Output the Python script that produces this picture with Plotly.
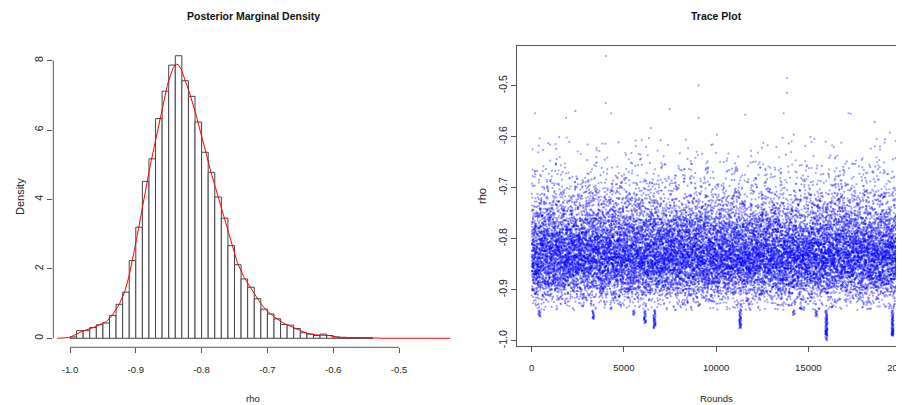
import numpy as np
import plotly.graph_objects as go

# ---------------- data ----------------
BIN_START = -1.00
BIN_WIDTH = 0.01
hist_density = [0.04, 0.22, 0.22, 0.31, 0.39, 0.44, 0.66, 0.98, 1.33, 2.24,
                3.20, 4.52, 5.17, 6.33, 7.12, 7.87, 8.14, 7.42, 6.97, 6.23,
                5.36, 4.78, 4.07, 3.46, 2.67, 2.12, 1.71, 1.47, 1.14, 0.84,
                0.70, 0.56, 0.40, 0.38, 0.28, 0.16, 0.12, 0.08, 0.12, 0.08,
                0.04, 0.03, 0.02, 0.02, 0.02, 0.01]
N_ROUNDS = 20000

# isolated high points of the trace (round, rho)
high_rounds = [4020, 4020, 4310, 180, 1865, 2370, 7480, 9050, 9050, 6460,
               11580, 13840, 13840, 13665, 17180, 17300, 18600, 19420, 14210, 10045]
high_values = [-0.442, -0.534, -0.554, -0.554, -0.563, -0.550, -0.546, -0.4995, -0.563, -0.583,
               -0.557, -0.485, -0.514, -0.554, -0.554, -0.555, -0.571, -0.592, -0.596, -0.596]
# downward excursions of the trace (round, lowest rho)
low_rounds = [15980, 19570, 11310, 6660, 6150, 3350, 416, 15440, 5520, 14210]
low_minima = [-0.995, -0.992, -0.976, -0.976, -0.966, -0.958, -0.953, -0.953, -0.950, -0.950]

x_ticks_left = [-1.0, -0.9, -0.8, -0.7, -0.6, -0.5]
y_ticks_left = [0, 2, 4, 6, 8]
x_ticks_right = [0, 5000, 10000, 15000, 20000]
y_ticks_right = [-1.0, -0.9, -0.8, -0.7, -0.6, -0.5]

# ---------------- trace samples rebuilt from the histogram ----------------
dens_arr = np.array(hist_density)
edges = BIN_START + BIN_WIDTH * np.arange(len(dens_arr))
centers = edges + BIN_WIDTH / 2
counts = np.rint(dens_arr * BIN_WIDTH * N_ROUNDS).astype(int)

bulk_vals, low_vals = [], []
for e, c in zip(edges, counts):
    if c <= 0:
        continue
    v = e + BIN_WIDTH * (np.arange(c) + 0.5) / c
    if e < -0.945:
        low_vals.extend(v)
    elif e < -0.605:
        bulk_vals.extend(v)
bulk_vals = np.array(bulk_vals)
low_vals = np.sort(np.array(low_vals))


def mix(k):
    z = np.asarray(k).astype(np.uint64) + np.uint64(0x9E3779B97F4A7C15)
    z = (z ^ (z >> np.uint64(30))) * np.uint64(0xBF58476D1CE4E5B9)
    z = (z ^ (z >> np.uint64(27))) * np.uint64(0x94D049BB133111EB)
    return z ^ (z >> np.uint64(31))


# fixed (non-random) ordering of the bulk samples over the rounds
M = len(bulk_vals)
order = np.argsort(mix(np.arange(M)))
bulk_rounds = np.empty(M)
bulk_rounds[order] = np.rint(np.arange(M) * (N_ROUNDS - 1) / (M - 1))

# low-tail samples sit in the downward excursions seen in the trace
low_r = []
low_off = (mix(np.arange(len(low_vals)) + 777) % np.uint64(121)).astype(int) - 60
for k, v in enumerate(low_vals):
    elig = [j for j, m in enumerate(low_minima) if m <= v + 1e-9] or [0]
    j = elig[k % len(elig)]
    low_r.append(low_rounds[j] + low_off[k])

tr_rounds = np.concatenate([bulk_rounds, np.array(low_r), np.array(high_rounds)])
tr_vals = np.concatenate([bulk_vals, low_vals, np.array(high_values)])
srt = np.argsort(tr_rounds, kind="stable")
tr_rounds, tr_vals = tr_rounds[srt], tr_vals[srt]

# kernel density (R default bandwidth)
n = len(tr_vals)
sd = tr_vals.std(ddof=1)
iqr = np.subtract(*np.percentile(tr_vals, [75, 25]))
bw = 0.9 * min(sd, iqr / 1.34) * n ** -0.2
grid = np.linspace(tr_vals.min() - 3 * bw, tr_vals.max() + 3 * bw, 512)
kde = np.zeros_like(grid)
for chunk in np.array_split(tr_vals, 20):
    kde += np.exp(-0.5 * ((grid[:, None] - chunk[None, :]) / bw) ** 2).sum(axis=1)
kde /= n * bw * np.sqrt(2 * np.pi)

# ---------------- figure ----------------
OFF = 8                      # default page margin of the html body
W, H = 904 - OFF, 405 - OFF
FONT = "Liberation Sans, Arial, Helvetica, sans-serif"
AX = "#555555"
TXT = "#222222"


def px(x):
    return (x - OFF) / W


def py(y):
    return 1 - (y - OFF) / H


fig = go.Figure()
fig.add_trace(go.Bar(x=centers, y=dens_arr, width=BIN_WIDTH,
                     marker=dict(color="white", line=dict(color="#444444", width=1)),
                     xaxis="x", yaxis="y", showlegend=False))
fig.add_trace(go.Scatter(x=grid, y=kde, mode="lines", line=dict(color="red", width=1),
                         xaxis="x", yaxis="y", showlegend=False))
fig.add_trace(go.Scatter(x=tr_rounds, y=tr_vals, mode="markers",
                         marker=dict(color="blue", size=2.2, opacity=0.38, line=dict(width=0)),
                         xaxis="x2", yaxis="y2", showlegend=False))

xfont = dict(family=FONT, size=9.5, color=TXT)
yfont = dict(family=FONT, size=10.5, color=TXT)
common = dict(showgrid=False, zeroline=False, ticks="outside", ticklen=5, tickwidth=1,
              tickcolor=AX, automargin=False, ticklabeloverflow="allow")

fig.update_layout(
    width=W, height=H, margin=dict(l=0, r=0, t=0, b=0),
    paper_bgcolor="white", plot_bgcolor="white", showlegend=False,
    xaxis=dict(domain=[px(53.3), px(450)], range=[-1.0254, -0.4225], anchor="y",
               tickvals=x_ticks_left, ticktext=["%.1f" % v for v in x_ticks_left],
               showline=False, tickfont=xfont, ticklabelstandoff=8, **common),
    yaxis=dict(domain=[py(347.3), py(46)], range=[-0.259, 8.42], anchor="x",
               tickvals=y_ticks_left, ticktext=[str(v) for v in y_ticks_left],
               tickangle=-90, showline=False, tickfont=yfont, **common),
    xaxis2=dict(domain=[px(516.7), 1.0], range=[-813, 20190], anchor="y2",
                tickvals=x_ticks_right, ticktext=[str(v) for v in x_ticks_right],
                showline=True, mirror=True, linecolor=AX, linewidth=1,
                tickfont=xfont, ticklabelstandoff=8, **common),
    yaxis2=dict(domain=[py(345.7), py(45.7)], range=[-1.0098, -0.4216], anchor="x2",
                tickvals=y_ticks_right, ticktext=["%.1f" % v for v in y_ticks_right],
                tickangle=-90, showline=True, mirror=False, linecolor=AX, linewidth=1,
                tickfont=yfont, **common),
    shapes=[
        dict(type="line", xref="x", yref="y domain", x0=x_ticks_left[0], x1=x_ticks_left[-1],
             y0=0, y1=0, line=dict(color=AX, width=1)),
        dict(type="line", xref="x domain", yref="y", x0=0, x1=0,
             y0=y_ticks_left[0], y1=y_ticks_left[-1], line=dict(color=AX, width=1)),
    ],
)

ann = [
    ("<b>Posterior Marginal Density</b>", 253, 16, 0, 10.5, "#111"),
    ("<b>Trace Plot</b>", 716, 16, 0, 10.5, "#111"),
    ("rho", 253, 398, 0, 9.5, TXT),
    ("Rounds", 716, 398, 0, 9.5, TXT),
    ("Density", 20, 197, -90, 11, TXT),
    ("rho", 482, 196, -90, 11, TXT),
]
for text, x, y, ang, size, col in ann:
    fig.add_annotation(text=text, x=px(x), y=py(y),
                       xref="paper", yref="paper", xanchor="center", yanchor="middle",
                       showarrow=False, textangle=ang,
                       font=dict(family=FONT, size=size, color=col))

fig.write_html("out.html")
